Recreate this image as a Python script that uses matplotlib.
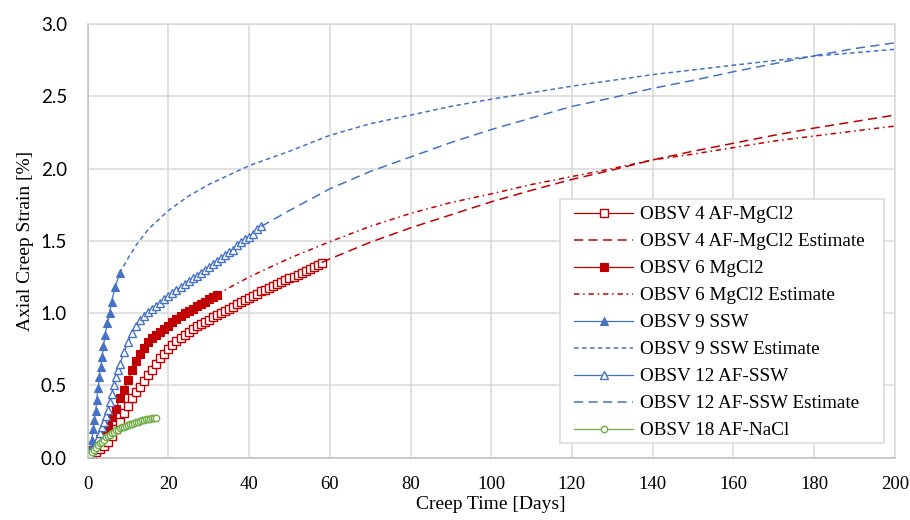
import matplotlib
matplotlib.use("Agg")
import matplotlib.pyplot as plt
from matplotlib.patches import Rectangle

RED = "#C00000"
BLUE = "#4472C4"
GREEN = "#70AD47"

# OBSV 4 AF-MgCl2 (measured)
t4 = list(range(0, 59))
s4 = [0.0, 0.02, 0.04, 0.06, 0.08, 0.11, 0.15, 0.20, 0.25, 0.31,
      0.36, 0.41, 0.455, 0.49, 0.53, 0.57, 0.61, 0.65, 0.69, 0.72,
      0.75, 0.78, 0.805, 0.83, 0.85, 0.87, 0.89, 0.91, 0.925, 0.94,
      0.955, 0.97, 0.985, 1.0, 1.015, 1.03, 1.045, 1.06, 1.075, 1.09,
      1.105, 1.12, 1.135, 1.15, 1.16, 1.175, 1.19, 1.20, 1.215, 1.23,
      1.24, 1.25, 1.265, 1.28, 1.29, 1.305, 1.32, 1.335, 1.35]

# OBSV 4 AF-MgCl2 Estimate
t4e = [58, 60, 70, 80, 90, 100, 110, 120, 130, 140, 150, 160, 170, 180, 190, 200]
s4e = [1.35, 1.375, 1.49, 1.59, 1.68, 1.77, 1.85, 1.925, 1.99, 2.06,
       2.12, 2.175, 2.23, 2.28, 2.325, 2.37]

# OBSV 6 MgCl2 (measured)
t6 = list(range(0, 33))
s6 = [0.0, 0.05, 0.09, 0.13, 0.17, 0.22, 0.28, 0.34, 0.41, 0.47,
      0.54, 0.61, 0.67, 0.72, 0.76, 0.80, 0.83, 0.85, 0.87, 0.89,
      0.91, 0.94, 0.96, 0.98, 1.0, 1.015, 1.03, 1.05, 1.065, 1.08,
      1.095, 1.11, 1.125]

# OBSV 6 MgCl2 Estimate
t6e = [32, 35, 40, 50, 60, 70, 80, 90, 100, 110, 120, 130, 140, 150,
       160, 170, 180, 190, 200]
s6e = [1.125, 1.175, 1.25, 1.38, 1.494, 1.60, 1.69, 1.765, 1.825, 1.89,
       1.945, 2.0, 2.06, 2.10, 2.145, 2.19, 2.225, 2.26, 2.294]

# OBSV 9 SSW (measured)
t9 = [0, 0.3, 0.6, 1.0, 1.4, 1.6, 2.0, 2.2, 2.6, 2.9, 3.2, 3.6, 3.9,
      4.3, 4.9, 5.4, 5.9, 6.8, 7.9]
s9 = [0.0, 0.02, 0.05, 0.12, 0.20, 0.26, 0.32, 0.40, 0.48, 0.56, 0.63,
      0.70, 0.77, 0.85, 0.93, 1.00, 1.08, 1.18, 1.275]

# OBSV 9 SSW Estimate
t9e = [7.9, 10, 12, 15, 20, 25, 30, 40, 50, 60, 70, 80, 90, 100, 120,
       140, 160, 180, 200]
s9e = [1.275, 1.38, 1.47, 1.58, 1.71, 1.81, 1.89, 2.02, 2.12, 2.23,
       2.31, 2.37, 2.43, 2.48, 2.57, 2.65, 2.715, 2.778, 2.825]

# OBSV 12 AF-SSW (measured)
t12 = [0, 0.5, 1, 1.5, 2, 2.5, 3, 3.5, 4, 4.5, 5, 5.5, 6, 6.5, 7, 7.5,
       8, 9, 10, 11, 12, 13, 14, 15, 16, 17, 18, 19, 20, 21, 22, 23, 24,
       25, 26, 27, 28, 29, 30, 31, 32, 33, 34, 35, 36, 37, 38, 39, 40,
       41, 42, 43]
s12 = [0.0, 0.025, 0.05, 0.075, 0.10, 0.135, 0.17, 0.21, 0.25, 0.29,
       0.33, 0.385, 0.44, 0.50, 0.56, 0.61, 0.65, 0.73, 0.80, 0.86,
       0.91, 0.95, 0.98, 1.01, 1.03, 1.05, 1.07, 1.10, 1.12, 1.14,
       1.16, 1.18, 1.20, 1.22, 1.24, 1.26, 1.28, 1.30, 1.32, 1.34,
       1.36, 1.38, 1.40, 1.42, 1.44, 1.47, 1.49, 1.51, 1.53, 1.55,
       1.58, 1.60]

# OBSV 12 AF-SSW Estimate
t12e = [43, 50, 60, 70, 80, 90, 100, 110, 120, 130, 140, 150, 160, 170,
        180, 190, 200]
s12e = [1.60, 1.71, 1.86, 1.98, 2.08, 2.18, 2.27, 2.35, 2.43, 2.49,
        2.555, 2.61, 2.67, 2.725, 2.78, 2.83, 2.87]

# OBSV 18 AF-NaCl (measured)
t18 = [0, 0.5, 1, 1.5, 2, 2.5, 3, 3.5, 4, 4.5, 5, 5.5, 6, 6.5, 7, 7.5,
       8, 8.5, 9, 9.5, 10, 10.5, 11, 11.5, 12, 12.5, 13, 13.5, 14, 14.5,
       15, 15.5, 16, 16.5, 17]
s18 = [0.0, 0.02, 0.04, 0.055, 0.07, 0.085, 0.10, 0.11, 0.125, 0.14,
       0.15, 0.16, 0.17, 0.18, 0.19, 0.195, 0.205, 0.21, 0.215, 0.22,
       0.225, 0.23, 0.235, 0.24, 0.245, 0.25, 0.255, 0.26, 0.262, 0.265,
       0.268, 0.27, 0.273, 0.276, 0.278]

x_ticks = [0, 20, 40, 60, 80, 100, 120, 140, 160, 180, 200]
y_ticks = [0.0, 0.5, 1.0, 1.5, 2.0, 2.5, 3.0]

SERIF = ["Liberation Serif", "DejaVu Serif"]
SANS = ["Lato", "DejaVu Sans"]

fig = plt.figure(figsize=(9.1, 5.2), dpi=100)
ax = fig.add_axes([0.0964, 0.1198, 0.8868, 0.834])

ax.plot(t4, s4, color=RED, lw=0.9, marker="s", ms=5.4, mfc="white",
        mec=RED, mew=1.0, label="OBSV 4 AF-MgCl2")
ax.plot(t4e, s4e, color=RED, lw=1.1, dashes=(6, 3.5),
        label="OBSV 4 AF-MgCl2 Estimate")
ax.plot(t6, s6, color=RED, lw=0.9, marker="s", ms=6.2, mfc=RED,
        mec=RED, mew=0.8, label="OBSV 6 MgCl2")
ax.plot(t6e, s6e, color=RED, lw=1.1, dashes=(3.5, 2.5, 1, 2.5),
        label="OBSV 6 MgCl2 Estimate")
ax.plot(t9, s9, color=BLUE, lw=0.9, marker="^", ms=6.3, mfc=BLUE,
        mec=BLUE, mew=0.8, label="OBSV 9 SSW")
ax.plot(t9e, s9e, color=BLUE, lw=1.1, dashes=(3, 2.2),
        label="OBSV 9 SSW Estimate")
ax.plot(t12, s12, color=BLUE, lw=0.9, marker="^", ms=5.8, mfc="white",
        mec=BLUE, mew=1.0, label="OBSV 12 AF-SSW")
ax.plot(t12e, s12e, color=BLUE, lw=1.1, dashes=(6, 3.5),
        label="OBSV 12 AF-SSW Estimate")
ax.plot(t18, s18, color=GREEN, lw=0.9, marker="o", ms=4.6, mfc="white",
        mec=GREEN, mew=1.0, label="OBSV 18 AF-NaCl")

ax.set_xlim(0, 200)
ax.set_ylim(0, 3.0)
ax.set_xticks(x_ticks)
ax.set_yticks(y_ticks)
ax.set_yticklabels([f"{v:.1f}" for v in y_ticks], family=SANS, fontsize=13.5)
ax.set_xticklabels([str(v) for v in x_ticks], family=SERIF, fontsize=13.5)
ax.tick_params(axis="both", length=0)
ax.tick_params(axis="x", pad=13)
ax.tick_params(axis="y", pad=15)

ax.grid(True, color="#d9d9d9", lw=1.1)
ax.set_axisbelow(True)
for side in ("top", "right"):
    ax.spines[side].set_color("#d9d9d9")
    ax.spines[side].set_linewidth(1.1)
for side in ("left", "bottom"):
    ax.spines[side].set_color("#bfbfbf")
    ax.spines[side].set_linewidth(1.1)

ax.set_xlabel("Creep Time [Days]", family=SERIF, fontsize=14, labelpad=2)
ax.set_ylabel("Axial Creep Strain [%]", family=SERIF, fontsize=14, labelpad=4.5)

# Legend with a flat light-grey frame
W, H = 910.0, 520.0
leg = ax.legend(loc="upper left", bbox_to_anchor=(574 / W, 1 - 206 / H),
                bbox_transform=fig.transFigure, frameon=False, borderpad=0,
                borderaxespad=0, handlelength=3.1, handletextpad=0.35,
                labelspacing=0.50, numpoints=1,
                prop={"family": SERIF, "size": 13.8})
frame = Rectangle((560 / W, 1 - 443 / H), (884 - 560) / W, (443 - 199) / H,
                  transform=fig.transFigure, facecolor="white",
                  edgecolor="#d9d9d9", lw=1.1, zorder=4)
ax.add_artist(frame)
frame.set_clip_on(False)
leg.set_zorder(5)

fig.savefig("out.png", dpi=100)
